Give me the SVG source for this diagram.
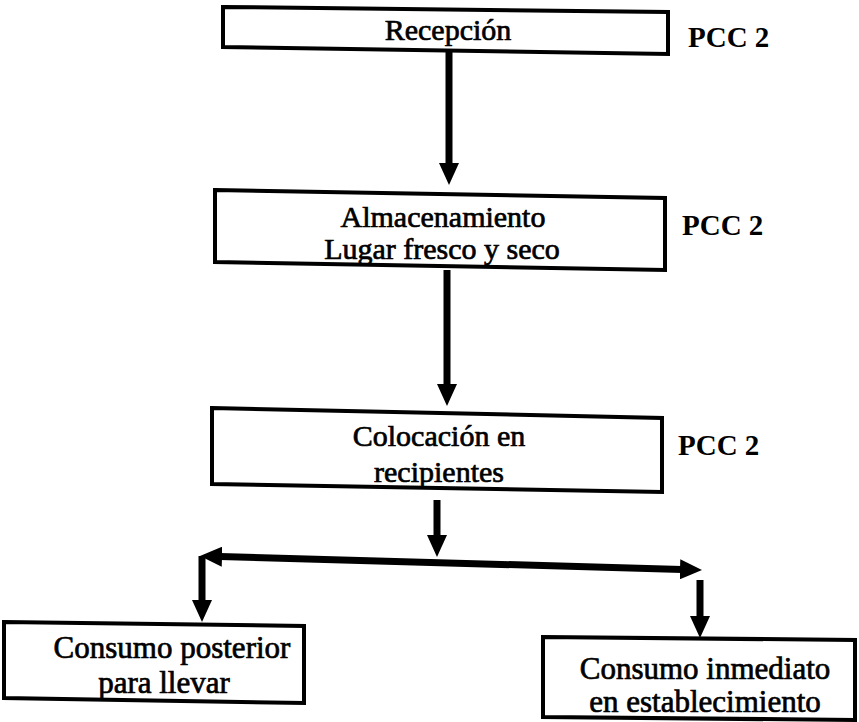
<svg xmlns="http://www.w3.org/2000/svg" width="859" height="722" viewBox="0 0 859 722">
<style>
.box{fill:#fff;stroke:#000;stroke-width:4;stroke-linejoin:miter}
.t{font-family:"Liberation Serif","Times New Roman",serif;font-size:30px;fill:#000;stroke:#000;stroke-width:0.7;text-anchor:middle}
.b{font-size:31px}
.pcc{font-family:"Liberation Serif","Times New Roman",serif;font-size:29px;font-weight:bold;fill:#000}
.c{stroke:#000;stroke-width:7;fill:none}
</style>
<defs>
<marker id="ah" viewBox="0 0 22 20" markerWidth="22" markerHeight="20" markerUnits="userSpaceOnUse" refX="2" refY="10" orient="auto-start-reverse">
<path d="M0,0 L22,10 L0,20 Z" fill="#000"/>
</marker>
</defs>
<rect width="859" height="722" fill="#fff"/>
<g id="connectors">
<line class="c" x1="449" y1="47" x2="449" y2="165" marker-end="url(#ah)"/>
<line class="c" x1="447" y1="270" x2="447" y2="386" marker-end="url(#ah)"/>
<line class="c" x1="437" y1="500" x2="437" y2="537" marker-end="url(#ah)"/>
<line class="c" x1="220" y1="556.6" x2="682" y2="569.4" marker-start="url(#ah)" marker-end="url(#ah)"/>
<line class="c" x1="202" y1="556" x2="202" y2="602" marker-end="url(#ah)"/>
<line class="c" x1="700" y1="580" x2="700" y2="618" marker-end="url(#ah)"/>
</g>
<g id="recepcion">
<path class="box" d="M223,7 L668,12 L668,54 L223,47 Z"/>
<text class="t" x="448" y="40">Recepción</text>
</g>
<g id="pcc1"><text class="pcc" x="688" y="47">PCC 2</text></g>
<g id="almacenamiento">
<path class="box" d="M215,190 L665,198 L665,270 L215,262 Z"/>
<text class="t" x="443" y="227">Almacenamiento</text>
<text class="t" x="442" y="259">Lugar fresco y seco</text>
</g>
<g id="pcc2"><text class="pcc" x="682" y="235">PCC 2</text></g>
<g id="colocacion">
<path class="box" d="M212,408 L662,418 L662,492 L212,484 Z"/>
<text class="t" x="439" y="446">Colocación en</text>
<text class="t" x="439" y="482">recipientes</text>
</g>
<g id="pcc3"><text class="pcc" x="678" y="455">PCC 2</text></g>
<g id="consumo-posterior">
<path class="box" d="M4,622 L304,626 L304,703 L4,698 Z"/>
<text class="t b" x="172" y="658">Consumo posterior</text>
<text class="t b" x="164" y="693">para llevar</text>
</g>
<g id="consumo-inmediato">
<path class="box" d="M543,637 L855,640 L855,720 L543,717 Z"/>
<text class="t b" x="705" y="679">Consumo inmediato</text>
<text class="t b" x="705" y="712">en establecimiento</text>
</g>
</svg>
